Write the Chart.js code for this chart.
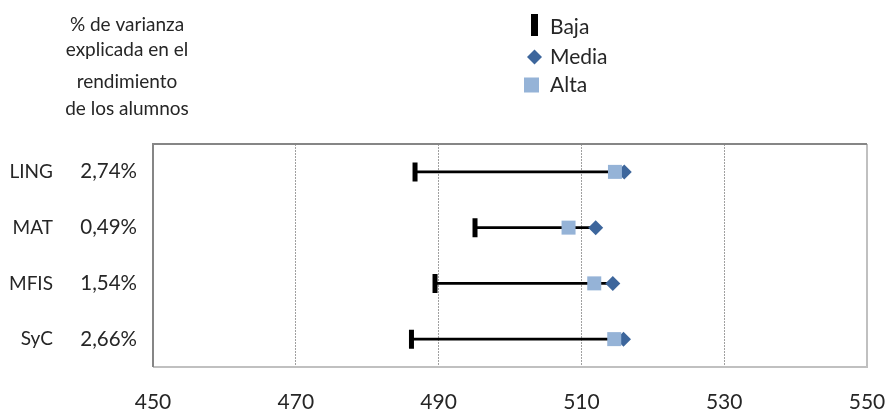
<!DOCTYPE html>
<html><head><meta charset="utf-8">
<script src="https://cdn.jsdelivr.net/npm/chart.js@4/dist/chart.umd.min.js"></script>
<style>html,body{margin:0;padding:0;background:#fff;overflow:hidden}canvas{display:block}</style>
</head><body><canvas id="c" width="885" height="412" style="width:885px;height:412px"></canvas>
<script>
const categories = ['LING', 'MAT', 'MFIS', 'SyC'];
const varianceLabels = ['2,74%', '0,49%', '1,54%', '2,66%'];
const baja = [486.7, 495.1, 489.5, 486.2];
const media = [516.0, 512.0, 514.4, 515.9];
const alta = [514.7, 508.2, 511.8, 514.6];
const xTicks = [450, 470, 490, 510, 530, 550];
const titleLines = ['% de varianza', 'explicada en el', 'rendimiento', 'de los alumnos'];
const seriesNames = ['Baja', 'Media', 'Alta'];

const FONT = 'Lato';
const TXT = '#262626';
const C_MEDIA = '#3D669C';
const C_ALTA = '#95B3D7';

const decor = {
  id: 'decor',
  afterDraw(chart) {
    const ctx = chart.ctx, a = chart.chartArea;
    ctx.save();
    ctx.lineWidth = 2;
    ctx.strokeStyle = '#C0C0C0';
    ctx.beginPath(); ctx.moveTo(a.right, a.top); ctx.lineTo(a.right, a.bottom); ctx.lineTo(a.left, a.bottom); ctx.stroke();
    ctx.strokeStyle = '#868686';
    ctx.beginPath(); ctx.moveTo(a.left, a.bottom); ctx.lineTo(a.left, a.top); ctx.lineTo(a.right, a.top); ctx.stroke();

    ctx.fillStyle = TXT;
    ctx.font = '19px ' + FONT;
    ctx.textAlign = 'center';
    ctx.textBaseline = 'alphabetic';
    const tb = [31, 56, 88, 115];
    titleLines.forEach((t, i) => ctx.fillText(t, 127, tb[i]));

    // legend
    ctx.font = '21px ' + FONT;
    ctx.textAlign = 'left';
    const lb = [34, 64, 92];
    ctx.fillStyle = '#000';
    ctx.fillRect(531, 14, 7, 22);
    ctx.fillStyle = C_MEDIA;
    ctx.beginPath(); ctx.moveTo(534.5, 49.5); ctx.lineTo(542, 57); ctx.lineTo(534.5, 64.5); ctx.lineTo(527, 57); ctx.closePath(); ctx.fill();
    ctx.fillStyle = C_ALTA;
    ctx.fillRect(524, 77.5, 15, 15);
    ctx.fillStyle = TXT;
    seriesNames.forEach((t, i) => ctx.fillText(t, 550, lb[i]));
    ctx.restore();
  }
};

const pts = arr => categories.map((c, i) => ({ x: arr[i], y: c }));

new Chart(document.getElementById('c'), {
  type: 'bar',
  data: {
    labels: categories,
    datasets: [
      { type: 'bar', label: 'rango', data: categories.map((c, i) => [baja[i], media[i]]),
        backgroundColor: '#000', borderWidth: 0, barThickness: 2, order: 3, yAxisID: 'y', xAxisID: 'x' },
      { type: 'line', label: seriesNames[0], data: pts(baja), showLine: false,
        pointStyle: 'line', rotation: 90, pointRadius: 9.5, pointBorderWidth: 5,
        pointBorderColor: '#000', pointBackgroundColor: '#000', order: 2, yAxisID: 'y', xAxisID: 'x' },
      { type: 'line', label: seriesNames[1], data: pts(media), showLine: false,
        pointStyle: 'rectRot', pointRadius: 7.5, pointBorderWidth: 0,
        pointBackgroundColor: C_MEDIA, pointBorderColor: C_MEDIA, order: 1, yAxisID: 'y', xAxisID: 'x' },
      { type: 'line', label: seriesNames[2], data: pts(alta), showLine: false,
        pointStyle: 'rect', pointRadius: 9.9, pointBorderWidth: 0,
        pointBackgroundColor: C_ALTA, pointBorderColor: C_ALTA, order: 0, yAxisID: 'y', xAxisID: 'x' }
    ]
  },
  options: {
    indexAxis: 'y',
    responsive: false,
    maintainAspectRatio: false,
    animation: false,
    devicePixelRatio: 1,
    layout: { padding: { top: 144, right: 18, left: 0, bottom: 0 } },
    plugins: { legend: { display: false }, tooltip: { enabled: false } },
    scales: {
      x: {
        type: 'linear', position: 'bottom', min: 450, max: 550,
        afterBuildTicks: s => { s.ticks = xTicks.map(v => ({ value: v })); },
        ticks: { font: { family: FONT, size: 21 }, color: TXT, padding: 23, maxRotation: 0 },
        grid: { drawTicks: false, lineWidth: 1,
          color: c => (c.tick && (c.tick.value === 450 || c.tick.value === 550)) ? 'rgba(0,0,0,0)' : '#A0A0A0' },
        border: { display: false, dash: [2, 1] },
        afterFit: s => { s.height = 45; s.paddingLeft = 0; s.paddingRight = 0; }
      },
      y: {
        type: 'category', labels: categories, position: 'left', offset: true, weight: 10,
        grid: { display: false, drawTicks: false }, border: { display: false },
        ticks: { font: { family: FONT, size: 19 }, color: TXT, padding: 7 },
        afterFit: s => { s.width = 60; s.paddingTop = 0; s.paddingBottom = 0; }
      },
      y2: {
        type: 'category', labels: varianceLabels, position: 'left', offset: true, weight: 0,
        grid: { display: false, drawTicks: false }, border: { display: false },
        ticks: { font: { family: FONT, size: 20.5 }, color: TXT, padding: 16 },
        afterFit: s => { s.width = 93; s.paddingTop = 0; s.paddingBottom = 0; }
      }
    }
  },
  plugins: [decor]
});
</script></body></html>
